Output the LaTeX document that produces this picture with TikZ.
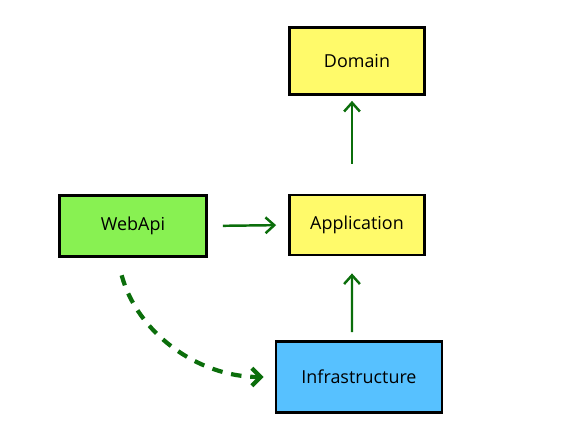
\documentclass[tikz,border=0pt]{standalone}
\usepackage{fontspec}
\setmainfont{Open Sans}
\usetikzlibrary{arrows.meta}
\definecolor{layeryellow}{HTML}{FFFA6A}
\definecolor{layergreen}{HTML}{88F152}
\definecolor{layerblue}{HTML}{57C1FF}
\definecolor{refgreen}{HTML}{0B6E0B}
\tikzset{
  layer/.style={draw=black, line width=1.6pt, font=\fontsize{10.2}{12}\selectfont, inner sep=0pt},
  dep/.style={draw=refgreen, line width=1.4pt, -{Straight Barb[length=5pt,width=9pt]}},
  weakdep/.style={draw=refgreen, line width=2.4pt, dash pattern=on 6pt off 5pt, -{Straight Barb[length=5pt,width=10pt]}}
}
\begin{document}
\begin{tikzpicture}[x=0.02cm,y=-0.02cm]
      \useasboundingbox (0,0) rectangle (565,442);
      \draw
        (357,61) node[layer, fill=layeryellow, minimum width=2.7cm, minimum height=1.34cm] (domain){Domain}
        (133,226) node[layer, fill=layergreen, minimum width=2.94cm, minimum height=1.22cm] (webapi){WebApi}
        (357,225) node[layer, fill=layeryellow, minimum width=2.7cm, minimum height=1.2cm] (application){Application}
        (359,377) node[layer, fill=layerblue, minimum width=3.32cm, minimum height=1.42cm] (infrastructure){Infrastructure};
      \coordinate (webapi-out) at ([xshift=-0.32cm]webapi.south);
      \begin{scope}
        \draw[dep, shorten <=0.6cm, shorten >=0.1cm] ([xshift=-0.1cm]application.north) to ([xshift=-0.1cm]domain.south);
        \draw[dep, shorten <=0.3cm, shorten >=0.24cm] (webapi.east) to (application.west);
        \draw[dep, shorten <=0.16cm, shorten >=0.34cm] ([xshift=-0.14cm]infrastructure.north) to ([xshift=-0.1cm]application.south);
        \draw[weakdep, shorten <=0.36cm, shorten >=0.22cm] (webapi-out) to[out=-75,in=180] (infrastructure.west);
      \end{scope}
    \end{tikzpicture}
\end{document}
